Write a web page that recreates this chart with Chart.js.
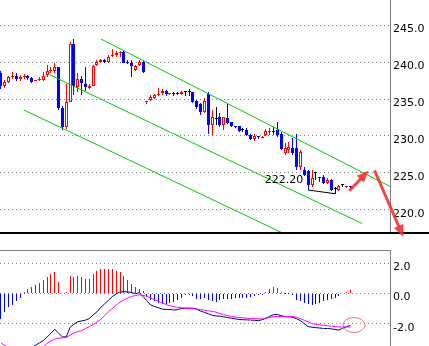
<!DOCTYPE html>
<html>
<head>
<meta charset="utf-8">
<script src="https://cdn.jsdelivr.net/npm/chart.js@4.4.1/dist/chart.umd.min.js"></script>
<style>
  html, body { margin: 0; padding: 0; background: #fff; }
  #wrap { position: relative; width: 429px; height: 346px; overflow: hidden; background: #fff; }
  canvas { position: absolute; left: 0; }
  #price { top: 0; }
  #macd { top: 246px; }
</style>
</head>
<body>
<div id="wrap">
  <canvas id="price" width="429" height="246"></canvas>
  <canvas id="macd" width="429" height="100"></canvas>
</div>
<script>
// ---- daily candles ----
const open = [238.55,236.80,237.34,237.93,238.07,237.70,237.97,238.11,237.80,237.43,237.53,237.57,238.20,238.78,238.78,239.32,233.78,231.18,234.64,242.47,
  236.58,237.66,237.03,236.49,236.76,239.55,240.00,240.27,240.00,240.81,240.90,241.18,241.39,240.00,239.90,238.96,239.55,240.00,234.64,234.82,
  235.14,235.50,235.77,236.08,235.63,235.73,235.78,235.63,235.90,235.99,235.90,234.73,234.32,233.28,235.68,231.49,232.30,232.53,231.49,232.39,
  231.85,231.22,231.31,230.81,230.81,230.14,229.55,229.90,229.77,230.14,230.50,230.72,230.81,230.23,227.74,228.11,228.34,228.34,225.85,225.40,
  225.27,223.38,224.96,224.30,224.46,223.61,224.05,222.90,222.70,223.33,223.07,223.15];
const high = [238.82,237.57,238.11,238.65,238.47,238.24,238.34,238.29,237.93,237.57,237.93,238.65,239.55,239.36,239.86,239.36,233.99,237.03,242.74,243.07,
  238.55,238.11,239.28,237.03,239.55,240.27,240.45,240.45,240.99,241.72,241.53,241.53,241.53,240.27,240.27,239.64,240.23,240.14,234.73,235.50,
  235.63,236.45,236.31,236.22,235.80,235.90,236.00,236.12,236.12,236.31,235.99,234.86,234.50,235.18,235.99,233.51,233.96,233.07,232.57,234.32,
  231.93,231.39,231.39,231.04,231.04,230.23,230.23,230.04,229.95,230.90,231.04,231.26,231.93,230.54,229.01,229.15,229.69,230.27,228.11,225.85,
  225.40,225.40,225.18,224.50,224.73,224.32,224.14,223.07,223.38,223.55,223.30,223.15];
const low = [236.31,236.45,237.12,237.66,237.43,237.47,237.74,237.57,237.12,237.39,237.43,237.43,237.93,238.47,238.47,233.51,230.81,230.95,234.59,235.54,
  235.99,235.54,236.08,236.31,236.72,239.42,239.82,239.82,239.82,240.72,240.72,240.72,239.82,239.69,238.01,238.82,239.42,238.47,234.32,234.69,
  235.00,235.41,235.54,235.45,235.60,235.41,235.54,235.58,235.45,235.45,234.42,233.61,232.80,233.07,230.27,230.14,231.49,231.26,230.81,231.60,
  231.22,231.04,230.58,230.50,230.04,229.46,229.33,229.59,229.72,230.04,230.14,230.14,229.90,228.11,227.43,227.66,227.43,225.40,225.40,224.64,
  222.70,223.15,224.05,223.83,223.47,223.47,222.61,222.20,222.61,223.10,223.00,222.84];
const close = [236.80,237.34,237.93,238.07,237.70,238.01,238.11,237.88,237.34,237.53,237.66,238.07,238.78,238.96,239.32,233.82,231.26,234.55,242.47,236.76,
  237.66,237.12,236.58,236.76,239.42,240.00,240.27,240.04,240.64,240.90,241.18,241.26,239.90,239.82,239.42,239.42,240.00,238.61,234.73,235.23,
  235.50,235.63,236.08,235.63,235.77,235.68,235.72,235.99,235.90,235.99,234.64,233.88,233.20,234.69,231.49,232.61,232.30,231.49,232.53,231.72,
  231.35,231.16,230.72,230.81,230.14,229.55,230.00,229.85,229.90,230.72,230.58,230.58,230.14,228.20,228.34,228.55,227.74,225.85,227.88,224.73,
  223.38,224.28,224.96,224.26,223.61,224.05,222.70,222.90,223.24,223.33,223.24,223.10];

// ---- MACD (DIF, DEA, histogram) ----
const dif = [-4.10,-4.00,-3.95,-3.95,-3.90,-3.85,-3.75,-3.65,-3.55,-3.40,-3.25,-3.10,-2.86,-2.62,-2.35,-2.60,-2.85,-2.85,-2.22,-2.02,
  -1.85,-1.80,-1.75,-1.64,-1.40,-1.20,-0.90,-0.68,-0.43,-0.20,-0.02,0.11,0.12,0.11,0.07,0.00,0.05,-0.20,-0.46,-0.75,
  -0.85,-0.93,-1.02,-1.04,-1.04,-1.08,-1.06,-0.98,-0.96,-0.96,-0.96,-1.03,-1.15,-1.24,-1.33,-1.43,-1.47,-1.49,-1.53,-1.58,
  -1.62,-1.66,-1.70,-1.72,-1.73,-1.74,-1.76,-1.78,-1.72,-1.62,-1.50,-1.38,-1.38,-1.46,-1.51,-1.53,-1.56,-1.66,-1.78,-1.98,
  -2.17,-2.21,-2.24,-2.27,-2.29,-2.30,-2.32,-2.36,-2.40,-2.28,-2.17,-2.10];
const dea = [-3.25,-3.40,-3.55,-3.65,-3.72,-3.78,-3.80,-3.80,-3.78,-3.70,-3.60,-3.50,-3.28,-3.10,-3.00,-2.93,-2.91,-2.89,-2.74,-2.60,
  -2.50,-2.44,-2.30,-2.18,-2.04,-1.87,-1.69,-1.44,-1.20,-0.98,-0.77,-0.56,-0.42,-0.29,-0.19,-0.13,-0.08,-0.12,-0.18,-0.29,
  -0.39,-0.50,-0.61,-0.72,-0.80,-0.86,-0.90,-0.93,-0.96,-0.98,-1.00,-1.02,-1.05,-1.09,-1.13,-1.17,-1.22,-1.31,-1.39,-1.45,
  -1.50,-1.54,-1.57,-1.60,-1.62,-1.63,-1.64,-1.66,-1.67,-1.62,-1.56,-1.51,-1.51,-1.51,-1.51,-1.51,-1.51,-1.56,-1.65,-1.76,
  -1.86,-1.97,-2.03,-2.06,-2.09,-2.11,-2.14,-2.17,-2.20,-2.20,-2.20,-2.20];
const hist = [-1.67,-1.18,-0.89,-0.73,-0.51,-0.27,0.11,0.29,0.44,0.56,0.71,0.89,1.11,1.29,1.42,0.78,0.00,0.08,1.18,1.11,
  1.18,1.11,0.96,0.96,1.27,1.49,1.62,1.62,1.62,1.60,1.49,1.40,1.16,0.89,0.62,0.44,0.33,0.16,-0.18,-0.40,
  -0.51,-0.62,-0.67,-0.67,-0.62,-0.56,-0.44,-0.27,-0.11,-0.07,-0.18,-0.33,-0.38,-0.29,-0.44,-0.51,-0.56,-0.44,-0.38,-0.33,
  -0.33,-0.29,-0.29,-0.27,-0.27,-0.22,-0.18,-0.11,-0.04,0.13,0.31,0.44,0.40,0.09,-0.02,-0.02,-0.04,-0.44,-0.51,-0.62,
  -0.71,-0.78,-0.67,-0.60,-0.49,-0.40,-0.33,-0.27,-0.18,0.00,0.11,0.22];

// ---- axis ticks ----
const priceTicks = [220, 225, 230, 235, 240, 245];
const macdTicks = [-2, 0, 2];

// ---- drawn studies: descending channel [x1, y1, x2, y2] in bar index / price ----
const channelUpper = [26.05, 243.11, 101.31, 223.18];
const channelMiddle = [12.25, 238.38, 94.02, 218.18];
const channelLower = [6.0, 233.51, 73.3, 216.9];
const lowLink = [80, 87];                    // bars joined by the low-price marker
const arrowUp = [90.9, 222.70, 95.75, 225.34];
const arrowDown = [97.4, 225.20, 104.8, 216.35];
const ringAt = [91.94, -2.07];

const RED = '#ff0000', BLUE = '#0000ff', BLACK = '#000000', GREEN = '#00c800';
const FONT = { family: 'DejaVu Sans', size: 11 };
const X_MIN = -0.25, X_MAX = 101.31;

const idx = open.map((_, i) => i);
const dir = i => (close[i] > open[i] ? 1 : close[i] < open[i] ? -1 : 0);
const candleColor = i => (dir(i) > 0 ? RED : dir(i) < 0 ? BLUE : BLACK);
const seg = s => [{ x: s[0], y: s[1] }, { x: s[2], y: s[3] }];

function lineSet(points, color, order) {
  return { type: 'line', data: points, borderColor: color, borderWidth: 1, pointRadius: 0,
           tension: 0, fill: false, order: order };
}

// keep thin bars on whole device pixels so 1px wicks and histogram bars stay sharp
const pixelSnap = {
  id: 'pixelSnap',
  beforeDatasetsDraw(chart) {
    chart.getSortedVisibleDatasetMetas().forEach(meta => {
      if (meta.type !== 'bar') return;
      meta.data.forEach(el => {
        if (el.x == null || el.y == null || el.base == null) return;
        el.x = Math.round(el.x - 0.5) + 0.5;
        if (el.y === el.base) return;
        let y = Math.round(el.y), b = Math.round(el.base);
        if (y === b) { if (el.y < el.base) y = b - 1; else y = b + 1; }
        el.y = y; el.base = b;
      });
    });
  }
};

function drawArrow(ctx, x1, y1, x2, y2, color) {
  const ang = Math.atan2(y2 - y1, x2 - x1), head = 12, hw = 5;
  const bx = x2 - head * Math.cos(ang), by = y2 - head * Math.sin(ang);
  ctx.strokeStyle = color; ctx.lineWidth = 3; ctx.lineCap = 'round';
  ctx.beginPath(); ctx.moveTo(x1, y1); ctx.lineTo(bx, by); ctx.stroke();
  ctx.fillStyle = color;
  ctx.beginPath(); ctx.moveTo(x2, y2);
  ctx.lineTo(bx + hw * Math.sin(ang), by - hw * Math.cos(ang));
  ctx.lineTo(bx - hw * Math.sin(ang), by + hw * Math.cos(ang));
  ctx.closePath(); ctx.fill();
}

function rightAxis(min, max, ticks) {
  return {
    position: 'right', min: min, max: max,
    afterBuildTicks: s => { s.ticks = ticks.map(v => ({ value: v })); },
    afterFit: s => { s.width = 39; s.paddingTop = 0; s.paddingBottom = 0; },
    grid: { color: '#808080', lineWidth: 1, drawTicks: false },
    border: { display: false, dash: [1, 3] },
    ticks: { padding: 3, labelOffset: 4, color: '#000', font: FONT, callback: v => Number(v).toFixed(1) }
  };
}

// ---- price panel ----
const pricePanel = {
  id: 'pricePanel',
  afterDraw(chart) {
    const { ctx, chartArea: a } = chart;
    const xs = chart.scales.x, ys = chart.scales.y;
    ctx.save();
    ctx.fillStyle = '#808080';
    ctx.fillRect(Math.round(a.right), 0, 1, Math.round(a.bottom));
    ctx.fillStyle = '#000';
    ctx.fillRect(0, Math.round(a.bottom) - 1, chart.width, 2);
    // lowest price tag
    const li = lowLink[0];
    ctx.font = '11px "DejaVu Sans"';
    ctx.textAlign = 'right'; ctx.textBaseline = 'middle'; ctx.fillStyle = '#000';
    ctx.fillText(low[lowLink[1]].toFixed(2), xs.getPixelForValue(li) - 5, ys.getPixelForValue(low[li]) - 10);
    // arrows
    const col = 'rgba(244,48,48,0.9)';
    [arrowUp, arrowDown].forEach(a2 => drawArrow(ctx,
      xs.getPixelForValue(a2[0]), ys.getPixelForValue(a2[1]),
      xs.getPixelForValue(a2[2]), ys.getPixelForValue(a2[3]), col));
    ctx.restore();
  }
};

new Chart(document.getElementById('price'), {
  type: 'bar',
  data: {
    datasets: [
      lineSet(seg(channelUpper), GREEN, 0),
      lineSet(seg(channelMiddle), GREEN, 0),
      lineSet(seg(channelLower), GREEN, 0),
      lineSet(lowLink.map(i => ({ x: i, y: low[i] })), BLACK, 0),
      {
        data: idx.map(i => ({ x: i, y: [open[i], close[i]] })),
        grouped: false, barPercentage: 1, categoryPercentage: 1, maxBarThickness: 3, minBarLength: 1,
        borderSkipped: false, inflateAmount: 0,
        borderWidth: c => (dir(c.dataIndex) > 0 ? 1 : 0),
        borderColor: c => candleColor(c.dataIndex),
        backgroundColor: c => (dir(c.dataIndex) > 0 ? '#ffffff' : candleColor(c.dataIndex)),
        order: 1
      },
      {
        data: idx.map(i => ({ x: i, y: [low[i], high[i]] })),
        grouped: false, barPercentage: 1, categoryPercentage: 1, maxBarThickness: 1,
        borderWidth: 0, inflateAmount: 0,
        backgroundColor: c => candleColor(c.dataIndex),
        order: 2
      }
    ]
  },
  options: {
    responsive: false, animation: false, devicePixelRatio: 1,
    layout: { padding: { left: 0, right: 0, top: 0, bottom: 13 } },
    plugins: { legend: { display: false }, tooltip: { enabled: false } },
    scales: {
      x: { type: 'linear', display: false, min: X_MIN, max: X_MAX, offset: false },
      y: rightAxis(216.89, 248.38, priceTicks)
    }
  },
  plugins: [pixelSnap, pricePanel]
});

// ---- MACD panel ----
const macdPanel = {
  id: 'macdPanel',
  afterDraw(chart) {
    const { ctx, chartArea: a } = chart;
    const xs = chart.scales.x, ys = chart.scales.y;
    ctx.save();
    ctx.fillStyle = '#808080';
    ctx.fillRect(0, Math.round(a.top), Math.round(a.right) + 1, 1);
    ctx.fillRect(Math.round(a.right), Math.round(a.top), 1, chart.height);
    ctx.strokeStyle = 'rgba(240,90,90,0.85)'; ctx.lineWidth = 1;
    ctx.beginPath();
    ctx.ellipse(xs.getPixelForValue(ringAt[0]), ys.getPixelForValue(ringAt[1]), 11, 7.5, 0, 0, Math.PI * 2);
    ctx.stroke();
    ctx.restore();
  }
};

new Chart(document.getElementById('macd'), {
  type: 'bar',
  data: {
    datasets: [
      lineSet(idx.map(i => ({ x: i, y: dea[i] })), '#ff00ff', 0),
      lineSet(idx.map(i => ({ x: i, y: dif[i] })), '#000080', 0),
      {
        data: idx.map(i => ({ x: i, y: hist[i] })),
        grouped: false, barPercentage: 1, categoryPercentage: 1, maxBarThickness: 1,
        borderWidth: 0, inflateAmount: 0,
        backgroundColor: c => (hist[c.dataIndex] >= 0 ? RED : BLUE),
        order: 1
      }
    ]
  },
  options: {
    responsive: false, animation: false, devicePixelRatio: 1,
    layout: { padding: { left: 0, right: 0, top: 4, bottom: 0 } },
    plugins: { legend: { display: false }, tooltip: { enabled: false } },
    scales: {
      x: { type: 'linear', display: false, min: X_MIN, max: X_MAX, offset: false },
      y: rightAxis(-3.45, 2.87, macdTicks)
    }
  },
  plugins: [pixelSnap, macdPanel]
});
</script>
</body>
</html>
